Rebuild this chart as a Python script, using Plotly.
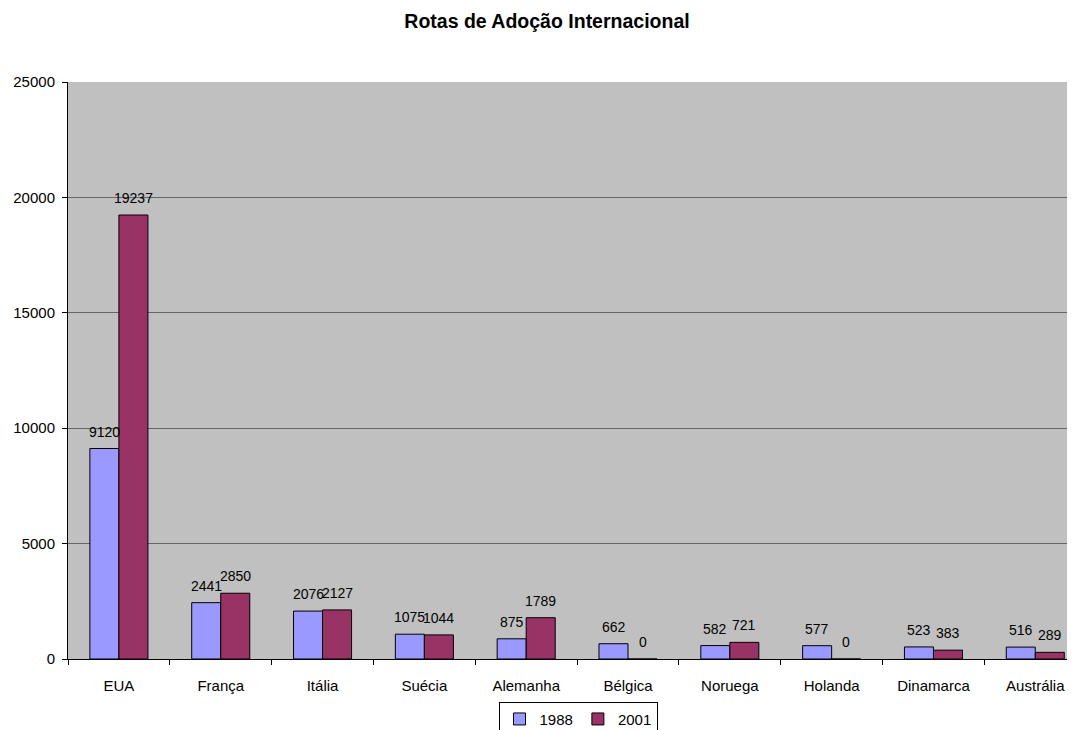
import plotly.graph_objects as go

categories = ["EUA", "França", "Itália", "Suécia", "Alemanha", "Bélgica", "Noruega", "Holanda", "Dinamarca", "Austrália"]
values_1988 = [9120, 2441, 2076, 1075, 875, 662, 582, 577, 523, 516]
values_2001 = [19237, 2850, 2127, 1044, 1789, 0, 721, 0, 383, 289]
y_ticks = [0, 5000, 10000, 15000, 20000, 25000]

font_family = "Liberation Sans, Arial, sans-serif"

series = [("1988", values_1988, "#9999FF", -14.5), ("2001", values_2001, "#993366", 14.5)]

fig = go.Figure()
for name, vals, color, _ in series:
    fig.add_trace(go.Bar(
        x=categories, y=vals, name=name,
        marker=dict(color=color, line=dict(color="black", width=1)),
    ))

annotations = []
for name, vals, color, dx in series:
    for cat, v in zip(categories, vals):
        annotations.append(dict(
            x=cat, y=v, xref="x", yref="y", text=str(v), showarrow=False,
            xanchor="center", yanchor="bottom", xshift=dx, yshift=7,
            font=dict(size=14, color="black", family=font_family),
        ))

W, H = 1067, 722
fig.update_layout(
    width=W, height=H,
    margin=dict(l=60, r=0, t=74, b=71, autoexpand=False),
    paper_bgcolor="white",
    plot_bgcolor="#C0C0C0",
    font=dict(family=font_family, size=15, color="black"),
    title=dict(text="<b>Rotas de Adoção Internacional</b>", x=539 / W, xanchor="center",
               y=1 - 13 / H, yanchor="middle", font=dict(size=19.5)),
    barmode="group", bargap=0.43, bargroupgap=0,
    showlegend=True,
    legend=dict(orientation="h", x=(578 - 8 - 60) / 1007, xanchor="center", y=-0.074, yanchor="top",
                bordercolor="black", borderwidth=1, bgcolor="white",
                font=dict(size=15), itemwidth=30, tracegroupgap=0),
    annotations=annotations,
)
fig.update_xaxes(
    type="category", range=[-0.5, 9.39], automargin=False,
    showline=True, linecolor="black", linewidth=1,
    ticks="outside", tickson="boundaries", ticklen=5, tickcolor="black",
    ticklabelstandoff=13,
    showgrid=False, tickfont=dict(size=15),
)
fig.update_yaxes(
    range=[0, 25000], tickvals=y_ticks, ticktext=[str(v) for v in y_ticks],
    automargin=False,
    showline=True, linecolor="black", linewidth=1,
    ticks="outside", ticklen=5, tickcolor="black",
    ticklabelstandoff=4,
    showgrid=True, gridcolor="#666666", gridwidth=1,
    zeroline=False, tickfont=dict(size=15),
)

fig.write_html("out.html")
